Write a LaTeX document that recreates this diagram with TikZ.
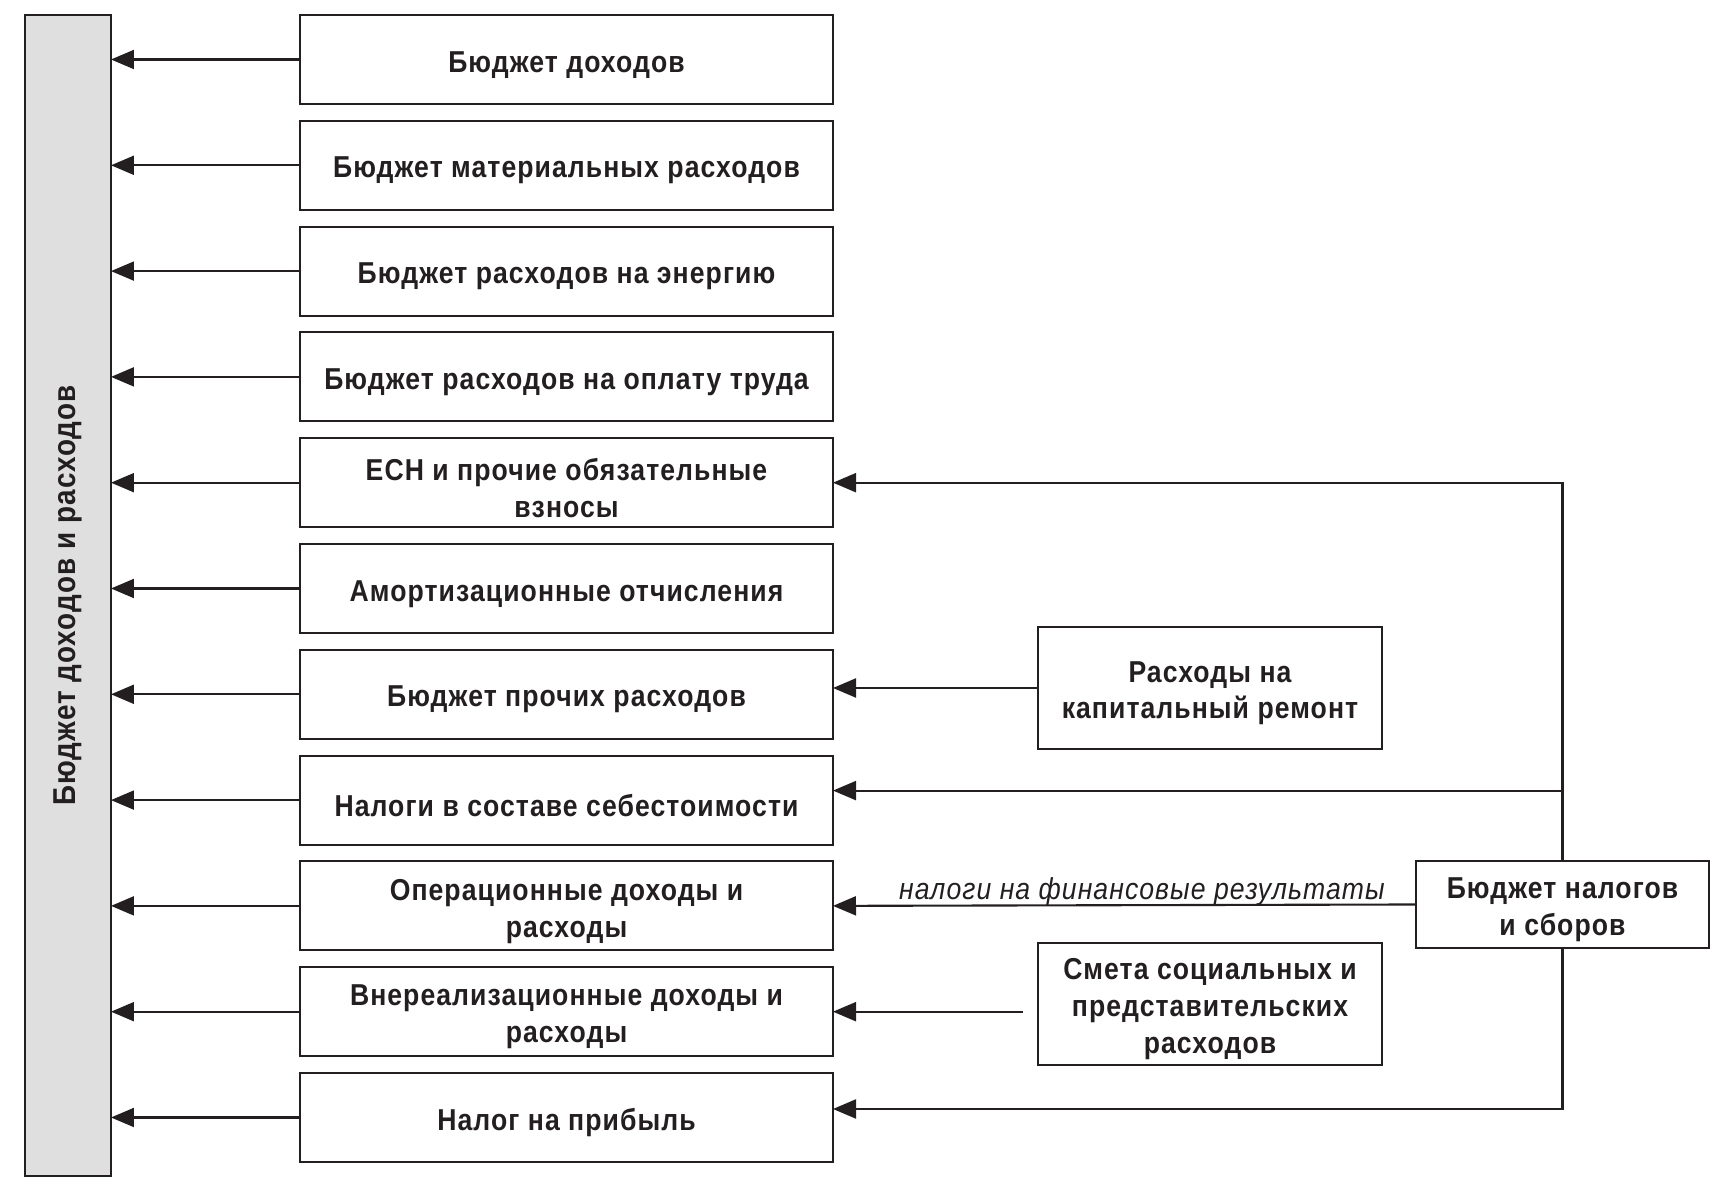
\documentclass[tikz,border=0pt]{standalone}
\usepackage{fontspec}
\setmainfont{Liberation Sans}[FakeStretch=0.88, LetterSpace=3.5]
\usetikzlibrary{positioning,arrows.meta}
\definecolor{barfill}{HTML}{DFDFDF}
\definecolor{ink}{HTML}{231F20}
\tikzset{
    frame/.style={draw=ink, line width=0.6pt, outer sep=0pt, inner sep=0pt,
        align=center, text=ink, font=\fontsize{8.6}{10.5}\selectfont\bfseries},
    budget/.style={frame, minimum width=5.33cm, minimum height=0.89cm,
        text height={\ht\pgfnodeparttextbox+3pt}},
    source/.style={budget, minimum width=3.44cm, minimum height=1.22cm},
    feed/.style={draw=ink, line width=0.6pt, -{Triangle[length=2.3mm,width=1.9mm]}},
}

\begin{document}
\begin{tikzpicture}
        \useasboundingbox (0,0) rectangle (17.19,-11.96);

        \node[frame, fill=barfill, rotate=90, minimum width=11.61cm, minimum height=0.86cm,
            font=\fontsize{9}{11}\selectfont\bfseries]
            (bdr) at (0.68,-5.955) {Бюджет доходов и расходов};

        \node[budget] (b1) at (5.665,-0.595) {Бюджет доходов};
        \node[budget, below=0.168cm of b1] (b2) {Бюджет материальных расходов};
        \node[budget, below=0.168cm of b2] (b3) {Бюджет расходов на энергию};
        \node[budget, below=0.168cm of b3] (b4) {Бюджет расходов на оплату труда};
        \node[budget, below=0.168cm of b4] (b5) {ЕСН и прочие обязательные\\взносы};
        \node[budget, below=0.168cm of b5] (b6) {Амортизационные отчисления};
        \node[budget, below=0.168cm of b6] (b7) {Бюджет прочих расходов};
        \node[budget, below=0.168cm of b7] (b8) {Налоги в составе себестоимости};
        \node[budget, below=0.168cm of b8] (b9) {Операционные доходы и\\расходы};
        \node[budget, below=0.168cm of b9] (b10) {Внереализационные доходы и\\расходы};
        \node[budget, below=0.168cm of b10] (b11) {Налог на прибыль};

        \node[source] (kr) at (12.10,-6.88) {Расходы на\\капитальный ремонт};
        \node[source] (sm) at (12.10,-10.04) {Смета социальных и\\представительских\\расходов};
        \node[budget, minimum width=2.93cm, minimum height=0.87cm] (nal) at (15.625,-9.045)
            {Бюджет налогов\\и сборов};

        \draw[feed] (b1.west) -- (b1.west -| bdr.south);
        \draw[feed] (b2.west) -- (b2.west -| bdr.south);
        \draw[feed] (b3.west) -- (b3.west -| bdr.south);
        \draw[feed] (b4.west) -- (b4.west -| bdr.south);
        \draw[feed] (b5.west) -- (b5.west -| bdr.south);
        \draw[feed] (b6.west) -- (b6.west -| bdr.south);
        \draw[feed] (b7.west) -- (b7.west -| bdr.south);
        \draw[feed] (b8.west) -- (b8.west -| bdr.south);
        \draw[feed] (b9.west) -- (b9.west -| bdr.south);
        \draw[feed] (b10.west) -- (b10.west -| bdr.south);
        \draw[feed] (b11.west) -- (b11.west -| bdr.south);

        \draw[feed] (kr.west) -- (kr.west -| b7.east);
        \draw[feed] ([xshift=-0.15cm]sm.west |- b10.east) -- (b10.east);
        \draw[feed] (nal.north) |- (b5.east);
        \draw[feed] (nal.north) |- ([yshift=0.095cm]b8.east);
        \draw[feed] (nal.south) |- ([yshift=0.085cm]b11.east);
        \draw[feed] (nal.west) -- (b9.east)
            node[pos=0.47, above, inner sep=0pt, yshift=-0.5pt, text=ink,
                font=\fontsize{8.6}{10.5}\selectfont\itshape]
            {налоги на финансовые результаты};
\end{tikzpicture}
\end{document}
